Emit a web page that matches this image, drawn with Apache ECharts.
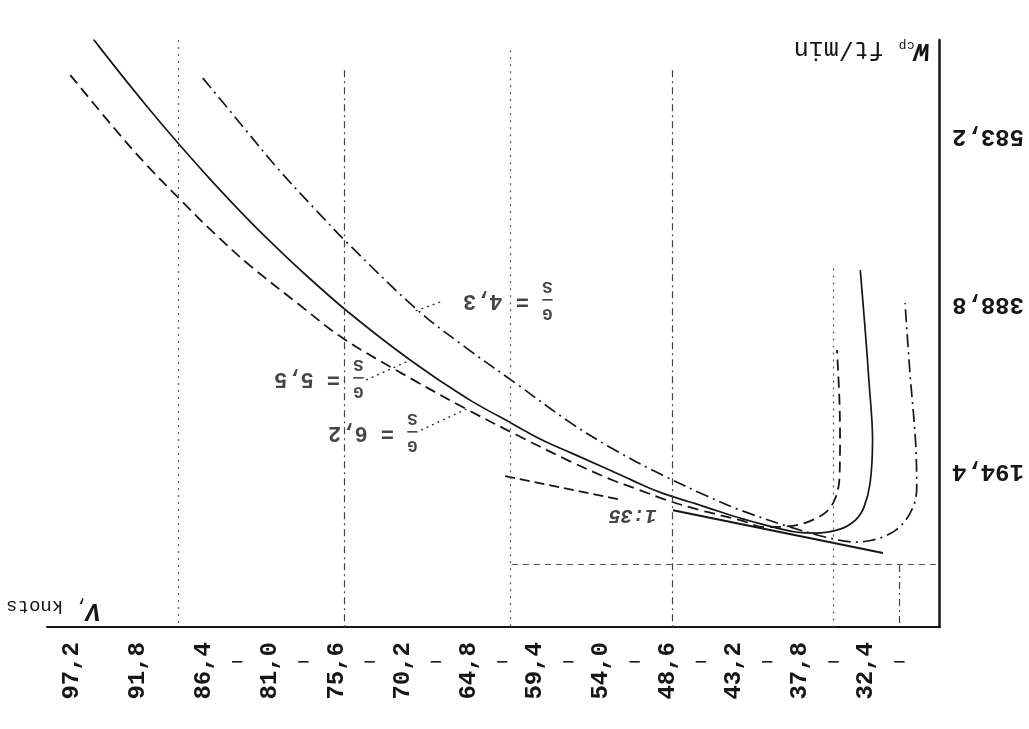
<!DOCTYPE html>
<html>
<head>
<meta charset="utf-8">
<script src="https://cdn.jsdelivr.net/npm/echarts@6/dist/echarts.min.js"></script>
<style>
    html, body { margin: 0; padding: 0; background: #fff; }
    /* the scan is upside down: draw the chart upright, then turn the whole box */
    #chart { width: 1029px; height: 729px; transform: rotate(180deg); }
</style>
</head>
<body>
<div id="chart"></div>
<script>
// speed V, knots (x) and sink W, ft/min (y)
var speedTicks = [32.4, 37.8, 43.2, 48.6, 54.0, 59.4, 64.8, 70.2, 75.6, 81.0, 86.4, 91.8, 97.2];
var speedDashes = [29.7, 35.1, 40.5, 45.9, 51.3, 56.7, 62.1, 67.5, 72.9, 78.3, 83.7];
var sinkTicks = [194.4, 388.8, 583.2];
// vertical lines of the sheet: speed and the sink where each one starts
var gridSpeeds = [29.7, 35.1, 48.2, 61.4, 74.9, 88.5];
var gridSinkTop = [86, 430, 660, 683, 660, 695];
var gridSinkLine = [[61.3, 85.8], [26.4, 85.8]];

// G/S = 6,2  (dashed)
var polar62 = [[97.3, 654.3], [93.8, 594.0], [91.0, 548.7], [88.3, 509.3], [85.5, 469.8], [82.6, 432.7],
    [78.6, 387.5], [75.1, 349.2], [69.6, 302.8], [65.0, 266.8], [60.9, 236.7], [56.6, 206.5], [53.3, 185.6],
    [50.9, 172.9], [48.7, 161.3], [46.0, 149.7], [42.7, 138.1], [40.7, 129.9], [38.6, 131.1], [37.0, 136.9],
    [35.6, 148.5], [34.9, 164.7], [34.6, 186.8], [34.55, 230.9], [34.6, 277.3], [34.8, 335.3]];
// G/S = 5,5  (solid)
var polar55 = [[95.4, 695.5], [92.4, 641.5], [89.7, 595.0], [87.0, 550.8], [84.3, 509.0], [81.6, 469.6],
    [78.6, 428.8], [74.7, 380.0], [69.6, 323.7], [65.0, 279.6], [61.5, 251.7], [59.0, 232.0], [55.7, 211.1],
    [51.9, 186.8], [49.5, 171.7], [46.0, 155.5], [42.7, 140.4], [38.6, 125.3], [36.6, 123.0], [34.55, 127.6],
    [33.3, 138.1], [32.6, 153.1], [32.1, 181.0], [31.9, 230.9], [32.2, 300.5], [32.5, 358.5], [32.9, 428.1]];
// G/S = 4,3  (dash-dot)
var polar43 = [[86.5, 650.8], [83.2, 594.0], [80.4, 546.0], [77.2, 496.5], [74.7, 459.4], [69.0, 381.7],
    [65.0, 337.6], [60.9, 295.8], [56.6, 251.7], [53.05, 220.4], [49.2, 191.4], [45.4, 165.9], [42.7, 149.7],
    [38.6, 129.9], [35.4, 117.2], [33.3, 112.5], [31.3, 117.2], [29.7, 129.9], [28.6, 153.1], [28.3, 176.3],
    [28.4, 230.9], [28.85, 308.6], [29.25, 389.8]];
// glide line 1:35
var glideDashed = [[61.85, 189.1], [52.33, 161.5]];
var glideSolid = [[48.17, 149.4], [31.05, 99.8]];

// wing loading labels and their leaders
var loadings = ['4,3', '5,5', '6,2'];
var loadingLabelAt = [[58.0, 393.3], [73.4, 302.8], [69.0, 240.1]];
var loadingLeaders = [
    [[67.15, 391.0], [69.2, 380.5]],
    [[73.18, 300.5], [69.6, 323.7]],
    [[68.7, 242.5], [65.0, 266.8]]
];
var glideLabel = '1:35';
var glideLabelAt = [49.5, 143.8];

var typeFont = '"Liberation Mono", "DejaVu Sans Mono", monospace';
var ink = '#161616';

function comma(v) {
    return v.toFixed(1).replace('.', ',');
}

var chart = echarts.init(document.getElementById('chart'));

var gridLineData = gridSpeeds.map(function (v, i) {
    var dashDot = (i === 0 || i === 2 || i === 4);
    return [
        {coord: [v, gridSinkTop[i]], lineStyle: {type: dashDot ? [7, 4, 2, 4] : [2, 5], color: dashDot ? '#444' : '#555'}},
        {coord: [v, 14]}
    ];
});
gridLineData.push([{coord: gridSinkLine[0], lineStyle: {type: [6, 5]}}, {coord: gridSinkLine[1]}]);

var series = [
    {
        name: 'G/S 6,2', type: 'line', data: polar62, smooth: 0.35, symbol: 'none',
        lineStyle: {color: ink, width: 1.8, type: [11, 6]}
    },
    {
        name: 'G/S 5,5', type: 'line', data: polar55, smooth: 0.35, symbol: 'none',
        lineStyle: {color: ink, width: 1.7}
    },
    {
        name: 'G/S 4,3', type: 'line', data: polar43, smooth: 0.35, symbol: 'none',
        lineStyle: {color: ink, width: 1.7, type: [13, 5, 2, 5]}
    },
    {
        name: '1:35 a', type: 'line', data: glideDashed, symbol: 'none',
        lineStyle: {color: ink, width: 1.8, type: [10, 5]}
    },
    {
        name: '1:35 b', type: 'line', data: glideSolid, symbol: 'none',
        lineStyle: {color: ink, width: 2}
    },
    {
        // dotted lines of the original sheet
        name: 'grid', type: 'line', data: [], silent: true,
        markLine: {
            symbol: 'none', silent: true, label: {show: false},
            lineStyle: {color: '#555', width: 1.2, type: [2, 5]},
            data: gridLineData
        }
    },
    {
        name: 'labels', type: 'scatter', symbolSize: 0, silent: true,
        data: loadingLabelAt.map(function (p, i) { return [p[0], p[1], loadings[i]]; }),
        label: {
            show: true, position: 'right', distance: 0,
            color: ink, fontFamily: typeFont,
            formatter: function (p) {
                return '{f|G}\n{f|—}{t| = ' + p.data[2] + '}\n{f|S}';
            },
            rich: {
                f: {fontSize: 17, fontWeight: 'bold', lineHeight: 13, fontFamily: typeFont, color: ink},
                t: {fontSize: 22, fontWeight: 'bold', lineHeight: 14, fontFamily: typeFont, color: ink}
            }
        }
    },
    {
        name: 'glide label', type: 'scatter', symbolSize: 0, silent: true,
        data: [glideLabelAt],
        label: {
            show: true, position: 'right', distance: 0,
            formatter: glideLabel,
            color: ink, fontFamily: typeFont, fontSize: 20, fontWeight: 'bold', fontStyle: 'italic'
        }
    }
];

loadingLeaders.forEach(function (seg, i) {
    series.push({
        name: 'leader ' + loadings[i], type: 'line', data: seg, symbol: 'none', silent: true,
        lineStyle: {color: '#333', width: 1.4, type: [2, 4]}
    });
});

var option = {
    backgroundColor: '#fff',
    animation: false,
    grid: {left: 89, right: 47, top: 102, bottom: 40},
    xAxis: [
        {
            type: 'value', position: 'top', min: 26.4, max: 99.2,
            axisLine: {show: true, lineStyle: {color: ink, width: 2}},
            axisTick: {show: false},
            splitLine: {show: false},
            axisLabel: {
                customValues: speedTicks, rotate: 90, margin: 15,
                fontFamily: typeFont, fontSize: 24, fontWeight: 'bold', color: ink,
                formatter: comma
            }
        },
        {
            // the hyphens typed between the speed labels
            type: 'value', position: 'top', min: 26.4, max: 99.2,
            axisLine: {show: false}, axisTick: {show: false}, splitLine: {show: false},
            axisLabel: {
                customValues: speedDashes, margin: 35, verticalAlign: 'middle',
                fontFamily: typeFont, fontSize: 17, fontWeight: 'bold', color: '#222',
                formatter: function () { return '—'; }
            }
        }
    ],
    yAxis: {
        type: 'value', inverse: true, min: 14, max: 695,
        axisLine: {show: true, lineStyle: {color: ink, width: 2.5}},
        axisTick: {show: false},
        splitLine: {show: false},
        axisLabel: {
            customValues: sinkTicks, margin: 12,
            fontFamily: typeFont, fontSize: 24, fontWeight: 'bold', color: ink,
            formatter: comma
        }
    },
    graphic: [
        {
            type: 'text', left: 928, top: 106,
            style: {
                text: '{v|V}{k|, knots}',
                rich: {
                    v: {fontSize: 25, fontStyle: 'italic', fontWeight: 'bold', fontFamily: typeFont, fill: ink},
                    k: {fontSize: 19, fontFamily: typeFont, fill: ink, padding: [8, 0, 0, 0]}
                }
            }
        },
        {
            type: 'text', left: 99, top: 665,
            style: {
                text: '{w|W}{s|cp}{u| ft/min}',
                rich: {
                    w: {fontSize: 26, fontStyle: 'italic', fontWeight: 'bold', fontFamily: typeFont, fill: ink},
                    s: {fontSize: 13, fontFamily: typeFont, fill: ink, padding: [12, 0, 0, 0]},
                    u: {fontSize: 25, fontFamily: typeFont, fill: ink, padding: [5, 0, 0, 0]}
                }
            }
        }
    ],
    series: series
};

chart.setOption(option);
</script>
</body>
</html>
